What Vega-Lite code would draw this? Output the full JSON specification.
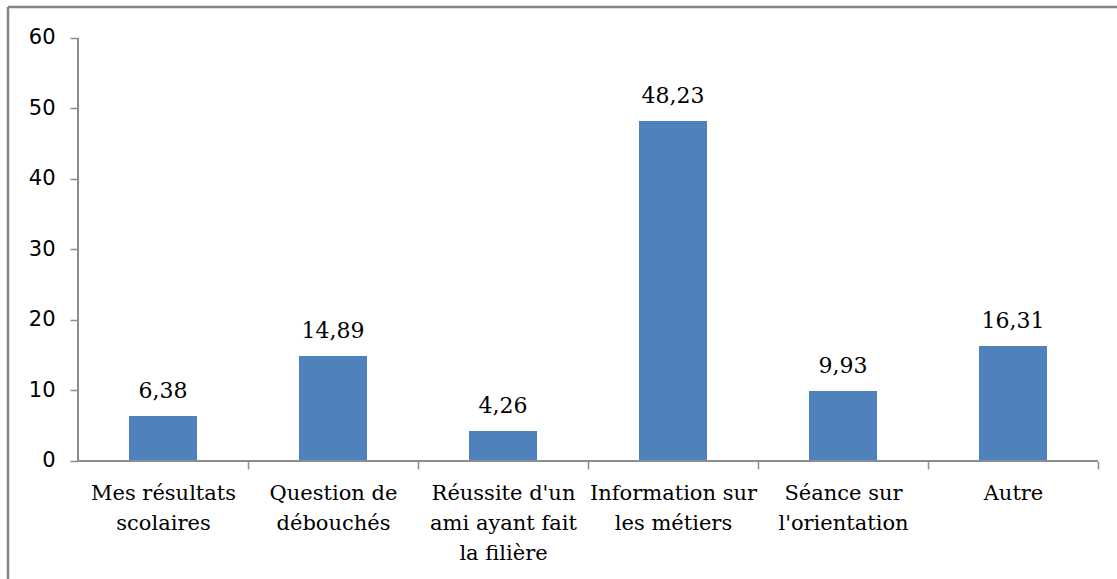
{
  "$schema": "https://vega.github.io/schema/vega-lite/v6.json",
  "width": 1109,
  "height": 572,
  "autosize": {"type": "none"},
  "padding": {"left": 8, "top": 7, "right": 0, "bottom": 0},
  "background": "white",
  "config": {
    "locale": {"number": {"decimal": ",", "thousands": " ", "grouping": [3], "currency": ["", " €"]}},
    "view": {"stroke": "#858585", "strokeWidth": 2.5, "strokeDash": [1109, 1681, 572, 0]}
  },
  "data": {
    "values": [
      {"cat": "Mes résultats\nscolaires", "value": 6.38},
      {"cat": "Question de\ndébouchés", "value": 14.89},
      {"cat": "Réussite d'un\nami ayant fait\nla filière", "value": 4.26},
      {"cat": "Information sur\nles métiers", "value": 48.23},
      {"cat": "Séance sur\nl'orientation", "value": 9.93},
      {"cat": "Autre", "value": 16.31}
    ]
  },
  "layer": [
    {
      "mark": {"type": "bar", "color": "#4F81BD"},
      "encoding": {
        "x": {
          "field": "cat",
          "type": "nominal",
          "sort": null,
          "scale": {
            "domain": ["Mes résultats\nscolaires", "Question de\ndébouchés", "Réussite d'un\nami ayant fait\nla filière", "Information sur\nles métiers", "Séance sur\nl'orientation", "Autre"],
            "paddingInner": 0.6,
            "paddingOuter": 0.5618,
            "align": 0.6335
          },
          "axis": {
            "orient": "bottom",
            "offset": -118,
            "domain": false,
            "title": null,
            "labelAngle": 0,
            "labelFont": "DejaVu Serif",
            "labelFontSize": 21,
            "labelLineHeight": 30,
            "labelColor": "#000000",
            "labelPadding": 13,
            "labelLimit": 400,
            "labelOverlap": false,
            "labelExpr": "split(datum.label, '\\n')",
            "tickSize": 8,
            "tickColor": "#8c8c8c",
            "tickWidth": 1.5,
            "bandPosition": 1,
            "tickOffset": 51,
            "labelOffset": -51
          }
        },
        "y": {
          "field": "value",
          "type": "quantitative",
          "scale": {"domain": [-16.738, 64.397], "nice": false, "zero": false},
          "axis": {
            "orient": "left",
            "offset": -70,
            "domain": false,
            "grid": false,
            "title": null,
            "values": [0, 10, 20, 30, 40, 50, 60],
            "tickSize": 8,
            "tickColor": "#8c8c8c",
            "tickWidth": 1.5,
            "labelFont": "DejaVu Sans",
            "labelFontSize": 21,
            "labelColor": "#000000",
            "labelPadding": 15
          }
        },
        "y2": {"datum": 0}
      }
    },
    {
      "mark": {"type": "text", "font": "DejaVu Serif", "fontSize": 22, "dy": -18, "baseline": "alphabetic", "color": "#000000"},
      "encoding": {
        "x": {"field": "cat", "type": "nominal", "sort": null},
        "y": {"field": "value", "type": "quantitative"},
        "text": {"field": "value", "type": "quantitative", "format": ".2f"}
      }
    },
    {
      "mark": {"type": "rule", "color": "#8c8c8c", "strokeWidth": 1.5},
      "encoding": {
        "x": {"datum": "Mes résultats\nscolaires", "bandPosition": -0.75},
        "y": {"datum": 0},
        "y2": {"datum": 60}
      }
    },
    {
      "mark": {"type": "rule", "color": "#8c8c8c", "strokeWidth": 1.5},
      "encoding": {
        "x": {"datum": "Mes résultats\nscolaires", "bandPosition": -0.75},
        "x2": {"datum": "Autre", "bandPosition": 1.75},
        "y": {"datum": 0}
      }
    }
  ]
}
